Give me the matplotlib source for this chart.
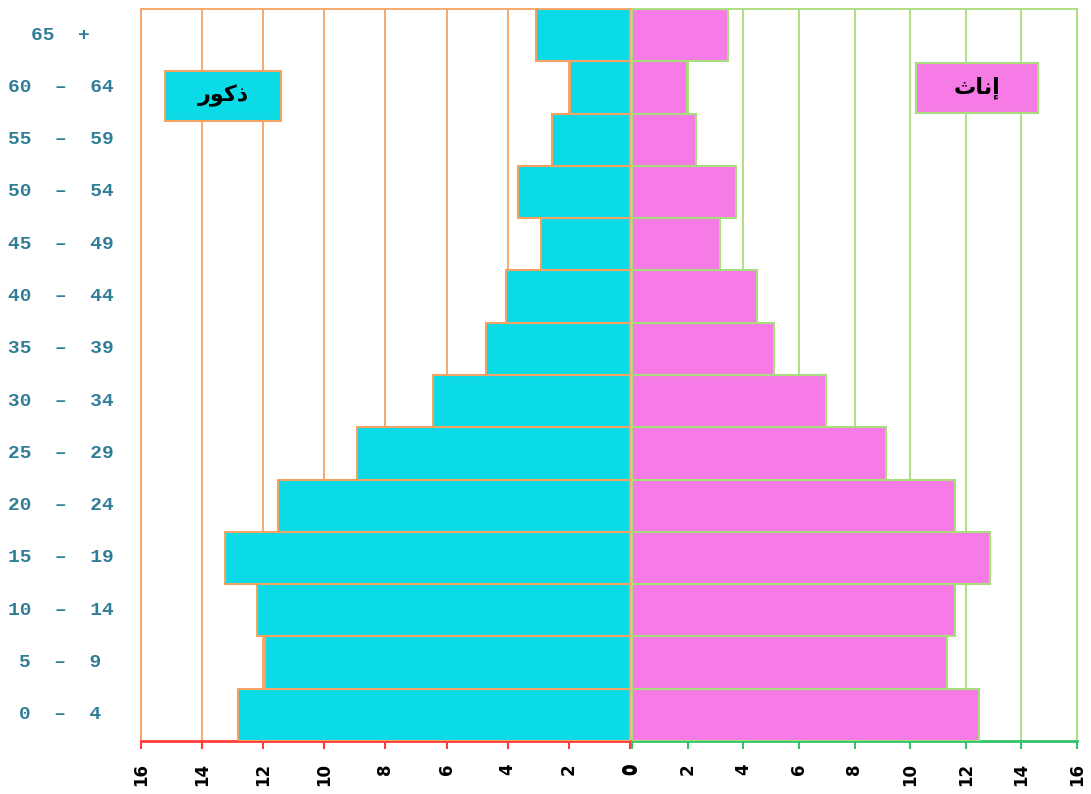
import matplotlib.pyplot as plt
from matplotlib.patches import Rectangle

# age groups from bottom to top
age_groups = ["0  –  4", "5  –  9", "10  –  14", "15  –  19", "20  –  24",
              "25  –  29", "30  –  34", "35  –  39", "40  –  44", "45  –  49",
              "50  –  54", "55  –  59", "60  –  64", "65  +"]
males = [12.83, 11.95, 12.2, 13.25, 11.52, 8.93, 6.45, 4.71, 4.06, 2.91,
         3.66, 2.55, 1.95, 3.08]
females = [12.48, 11.33, 11.62, 12.88, 11.62, 9.14, 6.98, 5.11, 4.5, 3.17,
           3.74, 2.3, 1.98, 3.45]
xticks = [0, 2, 4, 6, 8, 10, 12, 14, 16]

# Arabic labels in presentation forms (visual order) since matplotlib does no shaping
male_label = "\ufead\ufeee\ufedb\ufeab"     # ذكور
female_label = "\ufe99\ufe8e\ufee7\ufe87"   # إناث

cyan = "#0adbe6"
magenta = "#f77be6"
orange = "#f5a362"
lgreen = "#a9dc7c"

W, H = 1091, 794
fig = plt.figure(figsize=(W / 100, H / 100), dpi=100)
axL = fig.add_axes([141 / W, 1 - 741 / H, 489 / W, 732 / H])
axR = fig.add_axes([632 / W, 1 - 741 / H, 445 / W, 732 / H])

y = list(range(len(age_groups)))

axL.barh(y, males, height=1.0, color=cyan, edgecolor=orange, linewidth=1.5, zorder=3)
axR.barh(y, females, height=1.0, color=magenta, edgecolor=lgreen, linewidth=1.5, zorder=3)

for ax in (axL, axR):
    ax.set_xlim(0, 16)
    ax.set_ylim(-0.5, len(age_groups) - 0.5)
    ax.set_xticks(xticks)
    ax.set_xticklabels([str(t) for t in xticks], rotation=90,
                       fontsize=12, fontweight="bold", family="DejaVu Sans")
axL.invert_xaxis()

# grids
axL.grid(axis="x", color=orange, linewidth=1.3, zorder=0)
axR.grid(axis="x", color=lgreen, linewidth=1.3, zorder=0)

# spines
for s in ("left", "top", "right"):
    axL.spines[s].set_color(orange)
    axL.spines[s].set_linewidth(1.3)
    axR.spines[s].set_color(lgreen)
    axR.spines[s].set_linewidth(1.3)
axL.spines["bottom"].set_color("#ff3b3b")
axL.spines["bottom"].set_linewidth(2)
axR.spines["bottom"].set_color("#33c46a")
axR.spines["bottom"].set_linewidth(2)
axL.tick_params(axis="x", colors="#ff3b3b", labelcolor="black", length=6, width=1.5, pad=10)
axR.tick_params(axis="x", colors="#33c46a", labelcolor="black", length=6, width=1.5, pad=10)

# y labels on left axes only
axL.set_yticks(y)
axL.set_yticklabels(age_groups, ha="center", va="center", fontsize=14, fontweight="bold",
                    family="Liberation Mono", color="#2f7d96")
axL.tick_params(axis="y", length=0, pad=58)
axR.set_yticks([])

# legend boxes
fig.patches.append(Rectangle((165 / W, 1 - 121 / H), 116 / W, 50 / H,
                             transform=fig.transFigure, facecolor=cyan,
                             edgecolor=orange, linewidth=1.5, zorder=5))
fig.text(223 / W, 1 - 96 / H, male_label, ha="center", va="center",
         fontsize=16, fontweight="bold", family="DejaVu Sans", zorder=6)
fig.patches.append(Rectangle((916 / W, 1 - 113 / H), 122 / W, 50 / H,
                             transform=fig.transFigure, facecolor=magenta,
                             edgecolor=lgreen, linewidth=1.5, zorder=5))
fig.text(977 / W, 1 - 88 / H, female_label, ha="center", va="center",
         fontsize=16, fontweight="bold", family="DejaVu Sans", zorder=6)

fig.savefig("out.png", dpi=100)
